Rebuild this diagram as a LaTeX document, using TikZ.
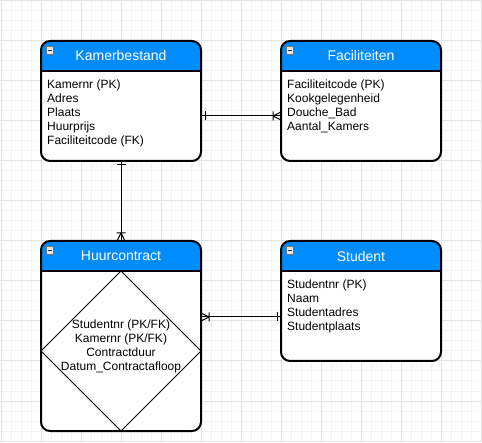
\documentclass[tikz,border=0pt]{standalone}
\usepackage{fontspec}
\setmainfont{Liberation Sans}
\usepackage{xcolor}
\usepackage{tikz}
\usetikzlibrary{positioning,shapes,decorations.markings}

\definecolor{headblue}{RGB}{0,140,255}
\definecolor{gridminor}{RGB}{242,242,242}
\definecolor{gridmajor}{RGB}{226,226,226}

\begin{document}
\begin{tikzpicture}[node distance=80pt, auto]
    \tikzstyle{entity} = [rectangle, draw, fill=white, line width=2pt, rounded corners=9pt, minimum width=160pt, minimum height=120pt, inner sep=0pt, outer sep=0pt, path picture={\fill[headblue, sharp corners] (path picture bounding box.north west) rectangle ([yshift=-30pt]path picture bounding box.north east); \draw[line width=2pt, sharp corners] ([yshift=-30pt]path picture bounding box.north west) -- ([yshift=-30pt]path picture bounding box.north east);}]
    \tikzstyle{title} = [text=white, font=\fontsize{14}{16}\selectfont]
    \tikzstyle{attrs} = [align=left, inner sep=0pt, anchor=north west, font=\fontsize{12}{14}\selectfont]
    \tikzstyle{minusicon} = [rectangle, draw=black!55, fill=black!10, line width=0.8pt, minimum size=7.5pt, inner sep=0pt, outer sep=0pt, path picture={\draw[line width=1.3pt, black!80] ([xshift=1.8pt]path picture bounding box.west) -- ([xshift=-1.8pt]path picture bounding box.east);}]
    \tikzstyle{link} = [line width=1pt]
    \tikzstyle{onestart} = [postaction={decorate, decoration={markings, mark=at position 4pt with {\draw[line width=1pt] (0pt,-4.5pt) -- (0pt,4.5pt);}}}]
    \tikzstyle{oneend} = [postaction={decorate, decoration={markings, mark=at position -4pt with {\draw[line width=1pt] (0pt,-4.5pt) -- (0pt,4.5pt);}}}]
    \tikzstyle{manystart} = [postaction={decorate, decoration={markings, mark=at position 8pt with {\draw[line width=1pt] (0pt,-4.5pt) -- (0pt,4.5pt) (0pt,0pt) -- (-8pt,4pt) (0pt,0pt) -- (-8pt,-4pt);}}}]
    \tikzstyle{manyend} = [postaction={decorate, decoration={markings, mark=at position -8pt with {\draw[line width=1pt] (0pt,-4.5pt) -- (0pt,4.5pt) (0pt,0pt) -- (8pt,4pt) (0pt,0pt) -- (8pt,-4pt);}}}]

    % background grid
    \useasboundingbox (0pt,0pt) rectangle (482pt,442pt);
    \draw [gridminor, line width=1pt, step=10pt, shift={(1pt,1pt)}] (-1pt,-1pt) grid (481pt,441pt);
    \draw [gridmajor, line width=1pt, step=40pt, shift={(1pt,1pt)}] (-1pt,-1pt) grid (481pt,441pt);

    % entities
    \node [entity] (kamer) at (121pt,341pt) {};
    \node [entity, right=of kamer] (facil) {};
    \node [entity, minimum height=190pt, below=of kamer] (huur) {};
    \node [entity, below=of facil] (stud) {};

    \node [title] (kamertitle) at ([yshift=-15pt]kamer.north) {Kamerbestand};
    \node [title] (faciltitle) at ([yshift=-15pt]facil.north) {Faciliteiten};
    \node [title] (huurtitle) at ([yshift=-15pt]huur.north) {Huurcontract};
    \node [title] (studtitle) at ([yshift=-15pt]stud.north) {Student};

    \node [minusicon] (kamericon) at ([xshift=9pt, yshift=-9.5pt]kamer.north west) {};
    \node [minusicon] (facilicon) at ([xshift=9pt, yshift=-9.5pt]facil.north west) {};
    \node [minusicon] (huuricon) at ([xshift=9pt, yshift=-9.5pt]huur.north west) {};
    \node [minusicon] (studicon) at ([xshift=9pt, yshift=-9.5pt]stud.north west) {};

    \node [attrs] (kamerattrs) at ([xshift=6pt, yshift=-38.5pt]kamer.north west) {Kamernr (PK)\\Adres\\Plaats\\Huurprijs\\Faciliteitcode (FK)};
    \node [attrs] (facilattrs) at ([xshift=6pt, yshift=-38.5pt]facil.north west) {Faciliteitcode (PK)\\Kookgelegenheid\\Douche\_Bad\\Aantal\_Kamers};
    \node [attrs] (studattrs) at ([xshift=6pt, yshift=-38.5pt]stud.north west) {Studentnr (PK)\\Naam\\Studentadres\\Studentplaats};

    % relationship diamond inside Huurcontract
    \node [diamond, draw, line width=1pt, minimum width=160pt, minimum height=160pt, inner sep=0pt, outer sep=0pt, anchor=north] (huurdiamond) at ([yshift=-30pt]huur.north) {};
    \node [align=center, inner sep=0pt, font=\fontsize{12}{14}\selectfont] (huurattrs) at ([yshift=5pt]huurdiamond.center) {Studentnr (PK/FK)\\Kamernr (PK/FK)\\Contractduur\\Datum\_Contractafloop};

    % connectors
    \draw [link, onestart, manyend] ([yshift=-15pt]kamer.east) -- ([yshift=-15pt]facil.west);
    \draw [link, onestart, manyend] (kamer.south) -- (huur.north);
    \draw [link, manystart, oneend] ([yshift=19pt]huur.east) -- ([yshift=-16pt]stud.west);

\end{tikzpicture}
\end{document}
